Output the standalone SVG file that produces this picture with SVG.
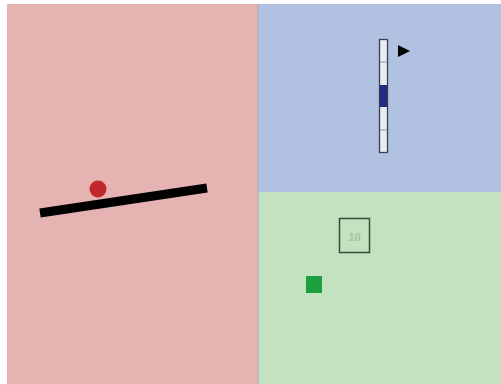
<svg xmlns="http://www.w3.org/2000/svg" width="501" height="384" viewBox="0 0 501 384">
<style>
.tick{stroke:#8a94a8;stroke-width:1}
</style>
<rect x="0" y="0" width="501" height="384" fill="#ffffff"/>
<g id="red-panel">
<rect x="7" y="4" width="251" height="380" fill="#e6b3b3"/>
<line x1="40" y1="213" x2="207" y2="188" stroke="#000" stroke-width="9"/>
<circle cx="98" cy="189" r="8.5" fill="#c0282c"/>
</g>
<g id="blue-panel">
<rect x="258" y="4" width="243" height="188" fill="#b1c1e1"/>
<rect x="379.5" y="39.5" width="8" height="113" fill="#e9ecf4" stroke="#3a4050" stroke-width="1.3"/>
<line class="tick" x1="380" y1="62" x2="387" y2="62"/>
<line class="tick" x1="380" y1="130" x2="387" y2="130"/>
<rect x="380" y="85" width="7" height="22" fill="#1f2d86"/>
<polygon points="398,45 410,51 398,57" fill="#000"/>
</g>
<g id="green-panel">
<rect x="258" y="192" width="243" height="192" fill="#c2e2c0"/>
<rect x="339.5" y="218.5" width="30" height="34" fill="none" stroke="#3c4a3c" stroke-width="1.5"/>
<text x="354.5" y="240.5" font-family="Liberation Sans, sans-serif" font-size="11" font-weight="bold" fill="#a3c4a3" text-anchor="middle">10</text>
<rect x="306" y="276" width="16" height="17" fill="#1ea041"/>
</g>
<line x1="258" y1="4" x2="258" y2="384" stroke="#b0a8a8" stroke-width="1"/>
</svg>
